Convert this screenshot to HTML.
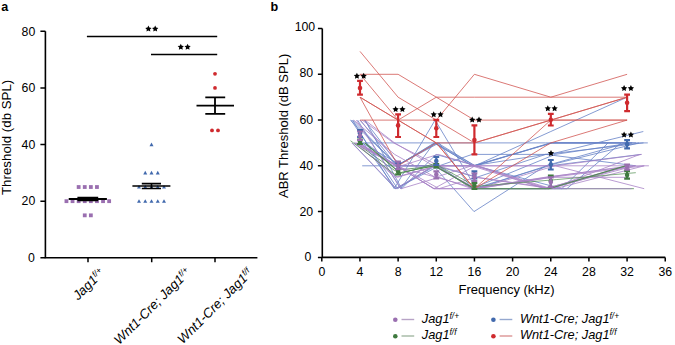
<!DOCTYPE html>
<html><head><meta charset="utf-8"><style>
html,body{margin:0;padding:0;background:#fff;}
svg{display:block;}
text{font-family:"Liberation Sans",sans-serif;}
</style></head><body>
<svg width="675" height="345" viewBox="0 0 675 345">
<text x="1.2" y="11.2" font-size="12.6" font-weight="bold" font-family="Liberation Sans, sans-serif">a</text>
<text x="270.4" y="11.2" font-size="12.6" font-weight="bold" font-family="Liberation Sans, sans-serif">b</text>
<path d="M45.4,31.3 V258.5 M44.6,257.8 H257.4" stroke="#000" stroke-width="1.6" fill="none"/>
<path d="M40.4,257.80 H45.4 M40.4,201.18 H45.4 M40.4,144.56 H45.4 M40.4,87.94 H45.4 M40.4,31.32 H45.4 M88,257.8 V262.3 M151.7,257.8 V262.3 M215,257.8 V262.3" stroke="#000" stroke-width="1.5" fill="none"/>
<text x="34.8" y="262.10" font-size="12.3" text-anchor="end" font-family="Liberation Sans, sans-serif">0</text>
<text x="35.3" y="205.48" font-size="12.3" text-anchor="end" font-family="Liberation Sans, sans-serif">20</text>
<text x="35.3" y="148.86" font-size="12.3" text-anchor="end" font-family="Liberation Sans, sans-serif">40</text>
<text x="35.3" y="92.24" font-size="12.3" text-anchor="end" font-family="Liberation Sans, sans-serif">60</text>
<text x="35.3" y="35.62" font-size="12.3" text-anchor="end" font-family="Liberation Sans, sans-serif">80</text>
<text transform="translate(10.9,195.0) rotate(-90)" font-size="13.3" font-family="Liberation Sans, sans-serif">Threshold (db SPL)</text>
<text transform="translate(88.9,284.6) rotate(-45)" font-size="13.2" font-style="italic" text-anchor="middle" font-family="Liberation Sans, sans-serif" y="3.9">Jag1<tspan font-size="8.4" dy="-4.3">f/+</tspan></text>
<text transform="translate(152.6,306.5) rotate(-45)" font-size="13.2" font-style="italic" text-anchor="middle" font-family="Liberation Sans, sans-serif" y="3.9">Wnt1-Cre; Jag1<tspan font-size="8.4" dy="-4.3">f/+</tspan></text>
<text transform="translate(215.2,306.5) rotate(-45)" font-size="13.2" font-style="italic" text-anchor="middle" font-family="Liberation Sans, sans-serif" y="3.9">Wnt1-Cre; Jag1<tspan font-size="8.4" dy="-4.3">f/f</tspan></text>
<path d="M86.9,36.6 H217.2 M151,54.4 H217.2" stroke="#000" stroke-width="1.5"/>
<polygon points="148.40,25.60 149.37,27.57 151.54,27.88 149.97,29.41 150.34,31.57 148.40,30.55 146.46,31.57 146.83,29.41 145.26,27.88 147.43,27.57" fill="#000"/>
<polygon points="155.20,25.60 156.17,27.57 158.34,27.88 156.77,29.41 157.14,31.57 155.20,30.55 153.26,31.57 153.63,29.41 152.06,27.88 154.23,27.57" fill="#000"/>
<polygon points="180.80,43.80 181.77,45.77 183.94,46.08 182.37,47.61 182.74,49.77 180.80,48.75 178.86,49.77 179.23,47.61 177.66,46.08 179.83,45.77" fill="#000"/>
<polygon points="187.60,43.80 188.57,45.77 190.74,46.08 189.17,47.61 189.54,49.77 187.60,48.75 185.66,49.77 186.03,47.61 184.46,46.08 186.63,45.77" fill="#000"/>
<rect x="76.75" y="185.12" width="3.8" height="3.8" fill="#9a6fb0"/>
<rect x="82.85" y="185.12" width="3.8" height="3.8" fill="#9a6fb0"/>
<rect x="88.95" y="185.12" width="3.8" height="3.8" fill="#9a6fb0"/>
<rect x="95.05" y="185.12" width="3.8" height="3.8" fill="#9a6fb0"/>
<rect x="64.55" y="199.28" width="3.8" height="3.8" fill="#9a6fb0"/>
<rect x="70.65" y="199.28" width="3.8" height="3.8" fill="#9a6fb0"/>
<rect x="76.75" y="199.28" width="3.8" height="3.8" fill="#9a6fb0"/>
<rect x="82.85" y="199.28" width="3.8" height="3.8" fill="#9a6fb0"/>
<rect x="88.95" y="199.28" width="3.8" height="3.8" fill="#9a6fb0"/>
<rect x="95.05" y="199.28" width="3.8" height="3.8" fill="#9a6fb0"/>
<rect x="101.15" y="199.28" width="3.8" height="3.8" fill="#9a6fb0"/>
<rect x="107.25" y="199.28" width="3.8" height="3.8" fill="#9a6fb0"/>
<rect x="82.85" y="213.44" width="3.8" height="3.8" fill="#9a6fb0"/>
<rect x="88.95" y="213.44" width="3.8" height="3.8" fill="#9a6fb0"/>
<polygon points="149.50,146.16 153.50,146.16 151.50,142.56" fill="#4169ad"/>
<polygon points="143.25,174.47 147.25,174.47 145.25,170.87" fill="#4169ad"/>
<polygon points="149.50,174.47 153.50,174.47 151.50,170.87" fill="#4169ad"/>
<polygon points="155.75,174.47 159.75,174.47 157.75,170.87" fill="#4169ad"/>
<polygon points="137.00,188.62 141.00,188.62 139.00,185.03" fill="#4169ad"/>
<polygon points="143.25,188.62 147.25,188.62 145.25,185.03" fill="#4169ad"/>
<polygon points="149.50,188.62 153.50,188.62 151.50,185.03" fill="#4169ad"/>
<polygon points="155.75,188.62 159.75,188.62 157.75,185.03" fill="#4169ad"/>
<polygon points="162.00,188.62 166.00,188.62 164.00,185.03" fill="#4169ad"/>
<polygon points="137.00,202.78 141.00,202.78 139.00,199.18" fill="#4169ad"/>
<polygon points="143.25,202.78 147.25,202.78 145.25,199.18" fill="#4169ad"/>
<polygon points="149.50,202.78 153.50,202.78 151.50,199.18" fill="#4169ad"/>
<polygon points="155.75,202.78 159.75,202.78 157.75,199.18" fill="#4169ad"/>
<polygon points="162.00,202.78 166.00,202.78 164.00,199.18" fill="#4169ad"/>
<circle cx="215" cy="73.79" r="1.9" fill="#cf2a2e"/>
<circle cx="215" cy="87.94" r="1.9" fill="#cf2a2e"/>
<circle cx="212" cy="130.41" r="1.9" fill="#cf2a2e"/>
<circle cx="218" cy="130.41" r="1.9" fill="#cf2a2e"/>
<path d="M68.7,199.0 H106.9 M77.4,197.7 H98.2 M77.4,200.3 H98.2" stroke="#000" stroke-width="1.8"/>
<path d="M132.4,186.0 H170.4 M141.8,183.6 H161 M141.8,188.5 H161 M151.5,183.6 V188.5" stroke="#000" stroke-width="1.6"/>
<path d="M196.5,105.6 H234 M205.3,97.3 H225.2 M205.3,113.8 H225.2 M215,97.3 V113.8" stroke="#000" stroke-width="1.8"/>
<path d="M322.3,28.5 V258.2 M321.5,257.4 H665.3" stroke="#000" stroke-width="1.6" fill="none"/>
<path d="M317.9,257.40 H322.3 M317.9,211.62 H322.3 M317.9,165.84 H322.3 M317.9,120.06 H322.3 M317.9,74.28 H322.3 M317.9,28.50 H322.3 M321.80,257.4 V261.6 M359.96,257.4 V261.6 M398.12,257.4 V261.6 M436.28,257.4 V261.6 M474.44,257.4 V261.6 M512.60,257.4 V261.6 M550.76,257.4 V261.6 M588.92,257.4 V261.6 M627.08,257.4 V261.6 M665.24,257.4 V261.6" stroke="#000" stroke-width="1.5" fill="none"/>
<text x="311.3" y="261.05" font-size="12.3" text-anchor="end" font-family="Liberation Sans, sans-serif">0</text>
<text x="313.1" y="215.92" font-size="12.3" text-anchor="end" font-family="Liberation Sans, sans-serif">20</text>
<text x="313.1" y="169.99" font-size="12.3" text-anchor="end" font-family="Liberation Sans, sans-serif">40</text>
<text x="313.1" y="123.66" font-size="12.3" text-anchor="end" font-family="Liberation Sans, sans-serif">60</text>
<text x="313.1" y="76.98" font-size="12.3" text-anchor="end" font-family="Liberation Sans, sans-serif">80</text>
<text x="315.2" y="31.40" font-size="12.3" text-anchor="end" font-family="Liberation Sans, sans-serif">100</text>
<text x="321.80" y="276" font-size="12.3" text-anchor="middle" font-family="Liberation Sans, sans-serif">0</text>
<text x="359.96" y="276" font-size="12.3" text-anchor="middle" font-family="Liberation Sans, sans-serif">4</text>
<text x="398.12" y="276" font-size="12.3" text-anchor="middle" font-family="Liberation Sans, sans-serif">8</text>
<text x="436.28" y="276" font-size="12.3" text-anchor="middle" font-family="Liberation Sans, sans-serif">12</text>
<text x="474.44" y="276" font-size="12.3" text-anchor="middle" font-family="Liberation Sans, sans-serif">16</text>
<text x="512.60" y="276" font-size="12.3" text-anchor="middle" font-family="Liberation Sans, sans-serif">20</text>
<text x="550.76" y="276" font-size="12.3" text-anchor="middle" font-family="Liberation Sans, sans-serif">24</text>
<text x="588.92" y="276" font-size="12.3" text-anchor="middle" font-family="Liberation Sans, sans-serif">28</text>
<text x="627.08" y="276" font-size="12.3" text-anchor="middle" font-family="Liberation Sans, sans-serif">32</text>
<text x="665.24" y="276" font-size="12.3" text-anchor="middle" font-family="Liberation Sans, sans-serif">36</text>
<text transform="translate(287.8,198.0) rotate(-90)" font-size="13" font-family="Liberation Sans, sans-serif">ABR Threshold (dB SPL)</text>
<text x="458.5" y="294.4" font-size="13" font-family="Liberation Sans, sans-serif">Frequency (kHz)</text>
<polyline points="355.8,142.9 394.5,170.4 437.2,165.8 471.9,188.7 551.2,188.7 633.9,188.7" fill="none" stroke="#4e8c4e" stroke-width="0.8" stroke-opacity="1.0"/>
<polyline points="351.0,120.1 397.7,188.7 433.5,165.8 474.0,211.6 545.6,165.8 627.3,142.9" fill="none" stroke="#6682c6" stroke-width="0.8" stroke-opacity="1.0"/>
<polyline points="357.6,120.1 400.6,188.7 434.0,142.9 472.8,165.8 552.3,142.9 647.8,142.9" fill="none" stroke="#6682c6" stroke-width="0.8" stroke-opacity="1.0"/>
<polyline points="360.3,120.1 396.7,165.8 439.1,142.9 471.7,188.7 555.1,154.4 632.0,142.9" fill="none" stroke="#6682c6" stroke-width="0.8" stroke-opacity="1.0"/>
<polyline points="352.6,120.1 394.2,188.7 435.1,120.1 476.3,188.7 546.9,165.8 639.0,142.9" fill="none" stroke="#6682c6" stroke-width="0.8" stroke-opacity="1.0"/>
<polyline points="361.5,142.9 396.5,142.9 436.6,142.9 471.8,142.9 545.5,142.9 630.0,142.9" fill="none" stroke="#6682c6" stroke-width="0.8" stroke-opacity="1.0"/>
<polyline points="362.2,165.8 397.0,165.8 435.2,142.9 475.0,165.8 550.2,142.9 632.3,142.9" fill="none" stroke="#6682c6" stroke-width="0.8" stroke-opacity="1.0"/>
<polyline points="364.3,120.1 399.4,165.8 434.7,165.8 474.9,165.8 550.8,131.5 627.1,97.2" fill="none" stroke="#6682c6" stroke-width="0.8" stroke-opacity="1.0"/>
<polyline points="363.1,142.9 395.7,188.7 439.2,165.8 472.1,154.4 549.8,154.4 643.3,131.5" fill="none" stroke="#6682c6" stroke-width="0.8" stroke-opacity="1.0"/>
<polyline points="352.7,120.1 397.5,165.8 433.5,165.8 475.4,188.7 566.8,188.7 621.1,142.9" fill="none" stroke="#6682c6" stroke-width="0.8" stroke-opacity="1.0"/>
<polyline points="365.7,142.9 395.9,165.8 437.5,142.9 475.0,165.8 551.7,142.9 636.0,142.9" fill="none" stroke="#6682c6" stroke-width="0.8" stroke-opacity="1.0"/>
<polyline points="365.1,120.1 401.6,188.7 436.1,154.4 475.4,165.8 561.8,188.7 608.1,142.9" fill="none" stroke="#6682c6" stroke-width="0.8" stroke-opacity="1.0"/>
<polyline points="361.6,142.9 402.1,165.8 438.2,165.8 473.1,188.7 549.4,165.8 641.1,154.4" fill="none" stroke="#6682c6" stroke-width="0.8" stroke-opacity="1.0"/>
<polyline points="350.4,120.1 397.3,165.8 434.3,142.9 472.1,165.8 545.5,154.4 643.5,142.9" fill="none" stroke="#6682c6" stroke-width="0.8" stroke-opacity="1.0"/>
<polyline points="352.3,142.9 395.3,188.7 435.6,165.8 476.7,177.3 545.7,154.4 635.9,165.8" fill="none" stroke="#6682c6" stroke-width="0.8" stroke-opacity="1.0"/>
<polyline points="359.8,120.1 401.1,165.8 438.2,154.4 476.6,165.8 548.1,188.7 635.0,165.8" fill="none" stroke="#a883c6" stroke-width="0.8" stroke-opacity="1.0"/>
<polyline points="356.4,120.1 401.1,188.7 439.0,177.3 472.3,188.7 546.9,177.3 630.6,165.8" fill="none" stroke="#a883c6" stroke-width="0.8" stroke-opacity="1.0"/>
<polyline points="354.2,142.9 397.5,177.3 436.8,165.8 473.0,188.7 544.8,177.3 635.1,165.8" fill="none" stroke="#a883c6" stroke-width="0.8" stroke-opacity="1.0"/>
<polyline points="356.6,142.9 398.2,165.8 439.0,188.7 475.6,177.3 550.9,188.7 639.9,154.4" fill="none" stroke="#a883c6" stroke-width="0.8" stroke-opacity="1.0"/>
<polyline points="362.1,120.1 393.6,142.9 438.7,165.8 476.1,165.8 555.3,165.8 644.2,188.7" fill="none" stroke="#a883c6" stroke-width="0.8" stroke-opacity="1.0"/>
<polyline points="357.0,142.9 396.7,165.8 433.9,188.7 475.2,165.8 545.5,188.7 626.7,165.8" fill="none" stroke="#a883c6" stroke-width="0.8" stroke-opacity="1.0"/>
<polyline points="353.7,120.1 394.6,154.4 435.3,177.3 471.8,165.8 544.8,188.7 628.7,165.8" fill="none" stroke="#a883c6" stroke-width="0.8" stroke-opacity="1.0"/>
<polyline points="351.8,142.9 396.4,188.7 433.4,165.8 476.7,188.7 552.1,177.3 628.6,177.3" fill="none" stroke="#a883c6" stroke-width="0.8" stroke-opacity="1.0"/>
<polyline points="354.5,142.9 396.2,165.8 435.5,165.8 472.2,165.8 554.9,165.8 648.9,165.8" fill="none" stroke="#a883c6" stroke-width="0.8" stroke-opacity="1.0"/>
<polyline points="358.3,142.9 397.5,165.8 433.8,188.7 472.1,188.7 548.9,188.7 631.4,188.7" fill="none" stroke="#a883c6" stroke-width="0.8" stroke-opacity="1.0"/>
<polyline points="364.9,120.1 394.6,142.9 433.4,165.8 477.1,165.8 551.1,188.7 628.6,165.8" fill="none" stroke="#a883c6" stroke-width="0.8" stroke-opacity="1.0"/>
<polyline points="359.7,142.9 393.4,165.8 436.4,177.3 477.3,188.7 555.1,165.8 641.8,154.4" fill="none" stroke="#a883c6" stroke-width="0.8" stroke-opacity="1.0"/>
<polyline points="354.7,142.9 396.4,165.8 434.3,188.7 476.1,188.7 551.2,177.3 643.8,165.8" fill="none" stroke="#a883c6" stroke-width="0.8" stroke-opacity="1.0"/>
<polyline points="355.9,142.9 395.1,177.3 438.1,165.8 477.3,177.3 555.0,188.7 644.4,165.8" fill="none" stroke="#a883c6" stroke-width="0.8" stroke-opacity="1.0"/>
<polyline points="364.7,142.9 399.8,172.7 434.6,165.8 474.5,188.7 549.0,188.7 625.8,165.8" fill="none" stroke="#4e8c4e" stroke-width="1.1" stroke-opacity="1.0"/>
<polyline points="350.5,140.7 395.6,175.0 434.8,163.6 475.6,186.4 556.2,179.6 635.8,172.7" fill="none" stroke="#4e8c4e" stroke-width="0.7" stroke-opacity="1.0"/>
<polyline points="360.0,51.4 398.1,97.2 436.3,120.1 474.4,74.3 550.8,97.2 627.1,74.3" fill="none" stroke="#d25753" stroke-width="0.8" stroke-opacity="1.0"/>
<polyline points="360.0,74.3 398.1,74.3 436.3,97.2 474.4,120.1 550.8,120.1 627.1,120.1" fill="none" stroke="#d25753" stroke-width="0.8" stroke-opacity="1.0"/>
<polyline points="360.0,97.2 398.1,120.1 436.3,97.2 474.4,97.2 550.8,97.2 627.1,97.2" fill="none" stroke="#d25753" stroke-width="0.8" stroke-opacity="1.0"/>
<polyline points="360.0,97.2 398.1,120.1 436.3,142.9 474.4,142.9 550.8,120.1 627.1,97.2" fill="none" stroke="#d25753" stroke-width="0.8" stroke-opacity="1.0"/>
<polyline points="360.0,97.2 398.1,165.8 436.3,142.9 474.4,188.7 550.8,120.1 627.1,97.2" fill="none" stroke="#d25753" stroke-width="0.8" stroke-opacity="1.0"/>
<polyline points="360.0,74.3 398.1,120.1 436.3,142.9 474.4,188.7 550.8,142.9 627.1,120.1" fill="none" stroke="#d25753" stroke-width="0.8" stroke-opacity="1.0"/>
<polyline points="360.0,120.1 398.1,120.1 436.3,120.1 474.4,142.9 550.8,120.1 627.1,120.1" fill="none" stroke="#d25753" stroke-width="0.8" stroke-opacity="1.0"/>
<path d="M360.0,139.5 V144.0 M357.1,139.5 H362.9 M357.1,144.0 H362.9" stroke="#3f7a3f" stroke-width="2.2" fill="none"/>
<circle cx="360.0" cy="141.5" r="2.3" fill="#3f7a3f"/>
<path d="M398.1,169.0 V174.3 M395.2,169.0 H401.0 M395.2,174.3 H401.0" stroke="#3f7a3f" stroke-width="2.2" fill="none"/>
<circle cx="398.1" cy="171.4" r="2.3" fill="#3f7a3f"/>
<path d="M436.3,164.2 V167.5 M433.4,164.2 H439.2 M433.4,167.5 H439.2" stroke="#3f7a3f" stroke-width="2.2" fill="none"/>
<circle cx="436.3" cy="165.8" r="2.3" fill="#3f7a3f"/>
<path d="M474.4,183.0 V189.0 M471.5,183.0 H477.3 M471.5,189.0 H477.3" stroke="#3f7a3f" stroke-width="2.2" fill="none"/>
<circle cx="474.4" cy="185.6" r="2.3" fill="#3f7a3f"/>
<path d="M550.8,175.6 V187.0 M547.9,175.6 H553.7 M547.9,187.0 H553.7" stroke="#3f7a3f" stroke-width="2.2" fill="none"/>
<circle cx="550.8" cy="181.0" r="2.3" fill="#3f7a3f"/>
<path d="M627.1,171.2 V178.7 M624.2,171.2 H630.0 M624.2,178.7 H630.0" stroke="#3f7a3f" stroke-width="2.2" fill="none"/>
<circle cx="627.1" cy="175.0" r="2.3" fill="#3f7a3f"/>
<path d="M360.0,130.2 V137.0 M357.1,130.2 H362.9 M357.1,137.0 H362.9" stroke="#4169ad" stroke-width="2.2" fill="none"/>
<circle cx="360.0" cy="133.5" r="2.3" fill="#4169ad"/>
<path d="M398.1,163.0 V169.0 M395.2,163.0 H401.0 M395.2,169.0 H401.0" stroke="#4169ad" stroke-width="2.2" fill="none"/>
<circle cx="398.1" cy="166.0" r="2.3" fill="#4169ad"/>
<path d="M436.3,156.9 V165.0 M433.4,156.9 H439.2 M433.4,165.0 H439.2" stroke="#4169ad" stroke-width="2.2" fill="none"/>
<circle cx="436.3" cy="161.0" r="2.3" fill="#4169ad"/>
<path d="M474.4,171.3 V178.5 M471.5,171.3 H477.3 M471.5,178.5 H477.3" stroke="#4169ad" stroke-width="2.2" fill="none"/>
<circle cx="474.4" cy="175.0" r="2.3" fill="#4169ad"/>
<path d="M550.8,160.0 V169.5 M547.9,160.0 H553.7 M547.9,169.5 H553.7" stroke="#4169ad" stroke-width="2.2" fill="none"/>
<circle cx="550.8" cy="164.5" r="2.3" fill="#4169ad"/>
<path d="M627.1,140.2 V148.3 M624.2,140.2 H630.0 M624.2,148.3 H630.0" stroke="#4169ad" stroke-width="2.2" fill="none"/>
<circle cx="627.1" cy="144.2" r="2.3" fill="#4169ad"/>
<path d="M360.0,131.5 V140.0 M357.1,131.5 H362.9 M357.1,140.0 H362.9" stroke="#9a6fb0" stroke-width="2.2" fill="none"/>
<circle cx="360.0" cy="135.8" r="2.3" fill="#9a6fb0"/>
<path d="M398.1,161.6 V169.1 M395.2,161.6 H401.0 M395.2,169.1 H401.0" stroke="#9a6fb0" stroke-width="2.2" fill="none"/>
<circle cx="398.1" cy="165.5" r="2.3" fill="#9a6fb0"/>
<path d="M436.3,171.3 V178.3 M433.4,171.3 H439.2 M433.4,178.3 H439.2" stroke="#9a6fb0" stroke-width="2.2" fill="none"/>
<circle cx="436.3" cy="174.5" r="2.3" fill="#9a6fb0"/>
<path d="M474.4,173.5 V181.0 M471.5,173.5 H477.3 M471.5,181.0 H477.3" stroke="#9a6fb0" stroke-width="2.2" fill="none"/>
<circle cx="474.4" cy="177.0" r="2.3" fill="#9a6fb0"/>
<path d="M550.8,177.4 V186.9 M547.9,177.4 H553.7 M547.9,186.9 H553.7" stroke="#9a6fb0" stroke-width="2.2" fill="none"/>
<circle cx="550.8" cy="182.0" r="2.3" fill="#9a6fb0"/>
<path d="M627.1,164.5 V169.6 M624.2,164.5 H630.0 M624.2,169.6 H630.0" stroke="#9a6fb0" stroke-width="2.2" fill="none"/>
<circle cx="627.1" cy="167.0" r="2.3" fill="#9a6fb0"/>
<path d="M360.0,80.8 V94.7 M357.1,80.8 H362.9 M357.1,94.7 H362.9" stroke="#cf2a2e" stroke-width="2.2" fill="none"/>
<circle cx="360.0" cy="88.1" r="2.3" fill="#cf2a2e"/>
<path d="M398.1,114.3 V137.0 M395.2,114.3 H401.0 M395.2,137.0 H401.0" stroke="#cf2a2e" stroke-width="2.2" fill="none"/>
<circle cx="398.1" cy="125.4" r="2.3" fill="#cf2a2e"/>
<path d="M436.3,119.9 V137.0 M433.4,119.9 H439.2 M433.4,137.0 H439.2" stroke="#cf2a2e" stroke-width="2.2" fill="none"/>
<circle cx="436.3" cy="128.3" r="2.3" fill="#cf2a2e"/>
<path d="M474.4,125.4 V154.4 M471.5,125.4 H477.3 M471.5,154.4 H477.3" stroke="#cf2a2e" stroke-width="2.2" fill="none"/>
<circle cx="474.4" cy="140.0" r="2.3" fill="#cf2a2e"/>
<path d="M550.8,113.9 V125.5 M547.9,113.9 H553.7 M547.9,125.5 H553.7" stroke="#cf2a2e" stroke-width="2.2" fill="none"/>
<circle cx="550.8" cy="119.7" r="2.3" fill="#cf2a2e"/>
<path d="M627.1,94.7 V111.1 M624.2,94.7 H630.0 M624.2,111.1 H630.0" stroke="#cf2a2e" stroke-width="2.2" fill="none"/>
<circle cx="627.1" cy="102.7" r="2.3" fill="#cf2a2e"/>
<polygon points="356.90,72.70 357.87,74.67 360.04,74.98 358.47,76.51 358.84,78.67 356.90,77.65 354.96,78.67 355.33,76.51 353.76,74.98 355.93,74.67" fill="#000"/>
<polygon points="363.70,72.70 364.67,74.67 366.84,74.98 365.27,76.51 365.64,78.67 363.70,77.65 361.76,78.67 362.13,76.51 360.56,74.98 362.73,74.67" fill="#000"/>
<polygon points="395.60,106.10 396.57,108.07 398.74,108.38 397.17,109.91 397.54,112.07 395.60,111.05 393.66,112.07 394.03,109.91 392.46,108.38 394.63,108.07" fill="#000"/>
<polygon points="402.40,106.10 403.37,108.07 405.54,108.38 403.97,109.91 404.34,112.07 402.40,111.05 400.46,112.07 400.83,109.91 399.26,108.38 401.43,108.07" fill="#000"/>
<polygon points="433.70,111.20 434.67,113.17 436.84,113.48 435.27,115.01 435.64,117.17 433.70,116.15 431.76,117.17 432.13,115.01 430.56,113.48 432.73,113.17" fill="#000"/>
<polygon points="440.50,111.20 441.47,113.17 443.64,113.48 442.07,115.01 442.44,117.17 440.50,116.15 438.56,117.17 438.93,115.01 437.36,113.48 439.53,113.17" fill="#000"/>
<polygon points="472.20,116.60 473.17,118.57 475.34,118.88 473.77,120.41 474.14,122.57 472.20,121.55 470.26,122.57 470.63,120.41 469.06,118.88 471.23,118.57" fill="#000"/>
<polygon points="479.00,116.60 479.97,118.57 482.14,118.88 480.57,120.41 480.94,122.57 479.00,121.55 477.06,122.57 477.43,120.41 475.86,118.88 478.03,118.57" fill="#000"/>
<polygon points="547.80,105.20 548.77,107.17 550.94,107.48 549.37,109.01 549.74,111.17 547.80,110.15 545.86,111.17 546.23,109.01 544.66,107.48 546.83,107.17" fill="#000"/>
<polygon points="554.60,105.20 555.57,107.17 557.74,107.48 556.17,109.01 556.54,111.17 554.60,110.15 552.66,111.17 553.03,109.01 551.46,107.48 553.63,107.17" fill="#000"/>
<polygon points="624.10,85.10 625.07,87.07 627.24,87.38 625.67,88.91 626.04,91.07 624.10,90.05 622.16,91.07 622.53,88.91 620.96,87.38 623.13,87.07" fill="#000"/>
<polygon points="630.90,85.10 631.87,87.07 634.04,87.38 632.47,88.91 632.84,91.07 630.90,90.05 628.96,91.07 629.33,88.91 627.76,87.38 629.93,87.07" fill="#000"/>
<polygon points="624.10,131.50 625.07,133.47 627.24,133.78 625.67,135.31 626.04,137.47 624.10,136.45 622.16,137.47 622.53,135.31 620.96,133.78 623.13,133.47" fill="#000"/>
<polygon points="630.90,131.50 631.87,133.47 634.04,133.78 632.47,135.31 632.84,137.47 630.90,136.45 628.96,137.47 629.33,135.31 627.76,133.78 629.93,133.47" fill="#000"/>
<polygon points="551.00,150.00 551.97,151.97 554.14,152.28 552.57,153.81 552.94,155.97 551.00,154.95 549.06,155.97 549.43,153.81 547.86,152.28 550.03,151.97" fill="#000"/>
<circle cx="395.3" cy="319.7" r="2.3" fill="#9a6fb0"/>
<path d="M401.5,319.5 H414.2" stroke="#b7a3c6" stroke-width="1.4"/>
<text x="421.8" y="322.5" font-size="12.8" font-style="italic" font-family="Liberation Sans, sans-serif">Jag1<tspan font-size="8.3" dy="-3.9">f/+</tspan></text>
<circle cx="395.3" cy="336.2" r="2.3" fill="#3f7a3f"/>
<path d="M401.5,336.0 H414.2" stroke="#a3b8a3" stroke-width="1.4"/>
<text x="421.8" y="339.0" font-size="12.8" font-style="italic" font-family="Liberation Sans, sans-serif">Jag1<tspan font-size="8.3" dy="-3.9">f/f</tspan></text>
<circle cx="493.4" cy="319.7" r="2.3" fill="#4169ad"/>
<path d="M499.59999999999997,319.5 H512.3" stroke="#95a8cf" stroke-width="1.4"/>
<text x="519.9" y="322.5" font-size="12.8" font-style="italic" font-family="Liberation Sans, sans-serif">Wnt1-Cre; Jag1<tspan font-size="8.3" dy="-3.9">f/+</tspan></text>
<circle cx="493.4" cy="336.2" r="2.3" fill="#cf2a2e"/>
<path d="M499.59999999999997,336.0 H512.3" stroke="#dc9494" stroke-width="1.4"/>
<text x="519.9" y="339.0" font-size="12.8" font-style="italic" font-family="Liberation Sans, sans-serif">Wnt1-Cre; Jag1<tspan font-size="8.3" dy="-3.9">f/f</tspan></text>
</svg>
</body></html>
